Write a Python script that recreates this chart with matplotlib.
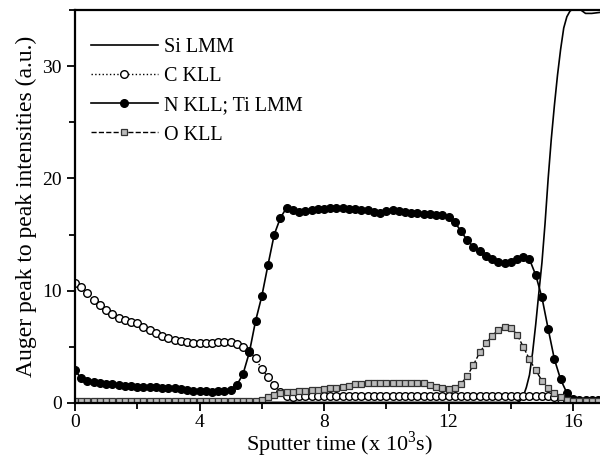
import numpy as np
import matplotlib
matplotlib.use("Agg")
from matplotlib import pyplot as plt
from matplotlib.ticker import MultipleLocator

matplotlib.rcParams['font.family'] = 'Liberation Serif'
matplotlib.rcParams['mathtext.fontset'] = 'custom'
matplotlib.rcParams['mathtext.rm'] = 'Liberation Serif'

# sputter time (x 10^3 s), sampled every 0.2
t = np.round(np.arange(0, 16.81, 0.2), 1)

c_kll = [10.7, 10.3, 9.8, 9.2, 8.7, 8.3, 7.9, 7.6, 7.4, 7.2,
         7.1, 6.8, 6.5, 6.2, 6.0, 5.8, 5.6, 5.5, 5.4, 5.35,
         5.35, 5.35, 5.35, 5.4, 5.45, 5.4, 5.25, 4.95, 4.6, 4.0,
         3.0, 2.3, 1.6, 1.0, 0.6, 0.55, 0.6, 0.6, 0.65, 0.6,
         0.65, 0.6, 0.65, 0.6, 0.65, 0.6, 0.6, 0.65, 0.6, 0.65,
         0.6, 0.6, 0.65, 0.6, 0.6, 0.65, 0.6, 0.6, 0.6, 0.65,
         0.6, 0.6, 0.6, 0.65, 0.6, 0.6, 0.6, 0.6, 0.6, 0.6,
         0.6, 0.6, 0.6, 0.6, 0.6, 0.6, 0.6, 0.5, 0.35, 0.25,
         0.15, 0.1, 0.1, 0.1, 0.1]

n_kll = [2.9, 2.2, 2.0, 1.85, 1.75, 1.7, 1.65, 1.6, 1.55, 1.5,
         1.45, 1.45, 1.4, 1.45, 1.35, 1.3, 1.3, 1.25, 1.15, 1.1,
         1.05, 1.05, 1.0, 1.05, 1.1, 1.2, 1.6, 2.6, 4.5, 7.3,
         9.5, 12.3, 15.0, 16.5, 17.4, 17.2, 17.0, 17.1, 17.2, 17.3,
         17.3, 17.4, 17.4, 17.4, 17.3, 17.3, 17.2, 17.2, 17.0, 16.9,
         17.1, 17.2, 17.1, 17.0, 16.9, 16.9, 16.8, 16.8, 16.7, 16.7,
         16.6, 16.1, 15.3, 14.5, 13.9, 13.5, 13.1, 12.8, 12.6, 12.5,
         12.6, 12.8, 13.0, 12.8, 11.4, 9.4, 6.6, 3.9, 2.1, 0.9,
         0.4, 0.3, 0.3, 0.3, 0.3]

o_kll = [0.15, 0.15, 0.15, 0.15, 0.15, 0.15, 0.15, 0.15, 0.15, 0.15,
         0.15, 0.15, 0.15, 0.15, 0.15, 0.15, 0.15, 0.15, 0.15, 0.15,
         0.15, 0.15, 0.15, 0.15, 0.15, 0.15, 0.15, 0.15, 0.15, 0.2,
         0.3, 0.5, 0.7, 0.85, 0.95, 1.0, 1.05, 1.1, 1.15, 1.2,
         1.25, 1.3, 1.35, 1.45, 1.55, 1.65, 1.7, 1.75, 1.8, 1.8,
         1.8, 1.8, 1.8, 1.8, 1.8, 1.75, 1.75, 1.6, 1.45, 1.3,
         1.25, 1.35, 1.7, 2.4, 3.4, 4.5, 5.3, 6.0, 6.5, 6.75,
         6.7, 6.1, 5.0, 3.9, 2.9, 2.0, 1.3, 0.85, 0.55, 0.3,
         0.2, 0.15, 0.15, 0.15, 0.15]

t_si = [0, 14.2, 14.3, 14.4, 14.5, 14.6, 14.7, 14.8, 14.9, 15.0, 15.1, 15.2,
        15.3, 15.4, 15.5, 15.6, 15.7, 15.8, 15.9, 16.0, 16.2, 16.4, 16.6, 16.9]
si_lmm = [0.05, 0.05, 0.2, 0.6, 1.4, 2.5, 4.5, 7.0, 9.8, 12.5, 16.0, 20.0,
          23.5, 26.5, 29.2, 31.5, 33.4, 34.4, 34.9, 35.1, 35.1, 34.7, 34.7, 34.8]

fig = plt.figure(figsize=(6, 4.58), dpi=100)
ax = fig.add_axes([0.125, 0.1201, 0.882, 0.858])

ax.plot(t_si, si_lmm, color='k', lw=1.2, label='Si LMM')
ax.plot(t, c_kll, color='k', lw=1.0, ls=':', marker='o', ms=5.5,
        mfc='white', mec='k', mew=1.0, label='C KLL')
ax.plot(t, n_kll, color='k', lw=1.2, ls='-', marker='o', ms=5.5,
        mfc='k', mec='k', label='N KLL; Ti LMM')
ax.plot(t, o_kll, color='k', lw=1.0, ls='--', marker='s', ms=4.5,
        mfc='#bbbbbb', mec='#333333', mew=0.9, label='O KLL')

ax.set_xlim(0, 17)
ax.set_ylim(0, 35)
ax.xaxis.set_major_locator(MultipleLocator(4))
ax.xaxis.set_minor_locator(MultipleLocator(2))
ax.yaxis.set_major_locator(MultipleLocator(10))
ax.yaxis.set_minor_locator(MultipleLocator(5))
ax.tick_params(which='both', direction='out', labelsize=14, width=1.3)
ax.tick_params(axis='x', pad=2)
ax.tick_params(which='major', length=6)
ax.tick_params(which='minor', length=4)
for s in ax.spines.values():
    s.set_linewidth(1.6)

ax.set_xlabel(r'Sputter time (x 10$^3$s)', fontsize=16, labelpad=-1)
ax.set_ylabel('Auger peak to peak intensities (a.u.)', fontsize=17, labelpad=4)

ax.legend(loc='upper left', bbox_to_anchor=(0.0, 0.97), frameon=False,
          fontsize=14.5, numpoints=1, handlelength=3.3, handletextpad=0.3,
          labelspacing=0.5, borderaxespad=0.4)

fig.savefig('out.png', dpi=100)
